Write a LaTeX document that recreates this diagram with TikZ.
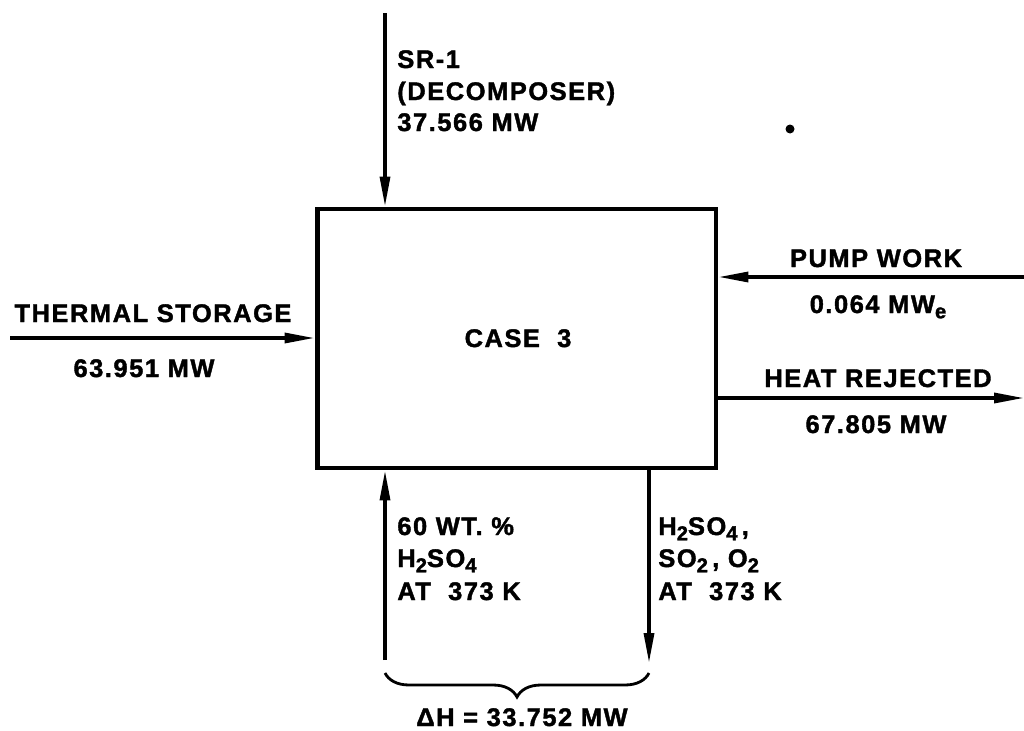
\documentclass[tikz,border=0pt]{standalone}
\usepackage{fontspec}
\setmainfont{Liberation Sans}[LetterSpace=6,BoldFeatures={FakeBold=1.5}]
\usetikzlibrary{arrows.meta,decorations.pathreplacing}

\newcommand{\tief}[1]{\raisebox{-3pt}{\fontsize{11.5}{11.5}\selectfont #1}}

\begin{document}
\begin{tikzpicture}[x=0.02cm,y=-0.02cm,
    blok/.style={draw,line width=2.8pt,minimum width=7.98cm,minimum height=5.18cm,inner sep=0pt},
    flux/.style={line width=1.9pt,-{Triangle[length=0.6cm,width=0.2cm]}},
    lab/.style={inner sep=0pt,font=\fontsize{14.5}{18}\selectfont\bfseries},
    graffa/.style={line width=1.6pt,decorate,decoration={brace,mirror,amplitude=0.48cm}}]
  \useasboundingbox (0,0) rectangle (1024,730);

  % ---- blocco --------------------------------------------------------------
  \node[blok] (case) at (516.5,338.5) {};
  \node[lab,anchor=base] (casetxt) at (518,347) {CASE\ \ 3};

  % ---- estremi liberi ------------------------------------------------------
  \coordinate (srtop)   at (385,13);
  \coordinate (tsleft)  at (10,338);
  \coordinate (pwright) at (1024,277);
  \coordinate (hrright) at (1024,398);
  \coordinate (acidin)  at (385,660);
  \coordinate (gasout)  at (649,663);
  \coordinate (brl)     at (385,673);
  \coordinate (brr)     at (649,673);

  % ---- flussi --------------------------------------------------------------
  \draw[flux] (srtop) -- (srtop |- case.north);
  \draw[flux] (tsleft) -- (tsleft -| case.west);
  \draw[flux] (pwright) -- (pwright -| case.east);
  \draw[flux] (hrright -| case.east) -- (hrright);
  \draw[flux] (acidin) -- (acidin |- case.south);
  \draw[flux] (gasout |- case.south) -- (gasout);
  \draw[graffa] (brl) -- (brr);

  % ---- etichette -----------------------------------------------------------
  \node[lab,anchor=base west] (sr1)  at (397,68)  {SR-1};
  \node[lab,anchor=base west] (sr2)  at (397,100) {(DECOMPOSER)};
  \node[lab,anchor=base west] (sr3)  at (397,131) {37.566 MW};
  \node[lab,anchor=base] (ts1) at (153,322) {THERMAL STORAGE};
  \node[lab,anchor=base] (ts2) at (144,377) {63.951 MW};
  \node[lab,anchor=base] (pw1) at (876,267) {PUMP WORK};
  \node[lab,anchor=base] (pw2) at (878,313) {0.064 MW\tief{e}};
  \node[lab,anchor=base] (hr1) at (878,387) {HEAT REJECTED};
  \node[lab,anchor=base] (hr2) at (876,433) {67.805 MW};
  \node[lab,anchor=base west] (ac1) at (397,535) {60 WT. \%};
  \node[lab,anchor=base west] (ac2) at (397,567) {H\tief{2}SO\tief{4}};
  \node[lab,anchor=base west] (ac3) at (397,600) {AT\ \ 373 K};
  \node[lab,anchor=base west] (gs1) at (658,535) {H\tief{2}SO\tief{4}\,,};
  \node[lab,anchor=base west] (gs2) at (658,567) {SO\tief{2}\,, O\tief{2}};
  \node[lab,anchor=base west] (gs3) at (658,600) {AT\ \ 373 K};
  \node[lab,anchor=base] (dh) at (522,726) {ΔH\ =\ 33.752 MW};

  % ---- puntino -------------------------------------------------------------
  \fill (790,129) circle (0.09cm);
\end{tikzpicture}
\end{document}
